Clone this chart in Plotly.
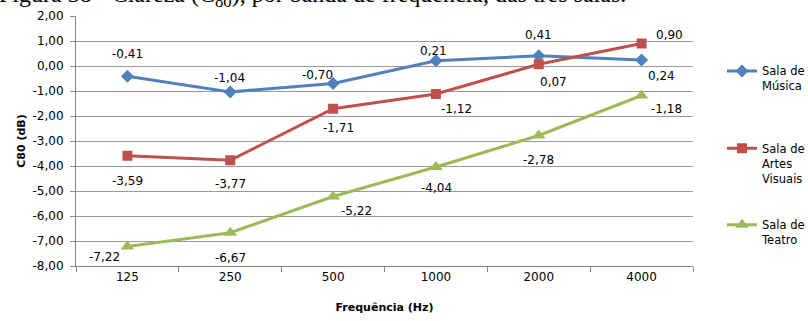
import plotly.graph_objects as go

# Frequency bands (Hz) and C80 clarity values (dB) for each room
bands = ["125", "250", "500", "1000", "2000", "4000"]
musica = [-0.41, -1.04, -0.70, 0.21, 0.41, 0.24]
artes = [-3.59, -3.77, -1.71, -1.12, 0.07, 0.90]
teatro = [-7.22, -6.67, -5.22, -4.04, -2.78, -1.18]
y_ticks = [2, 1, 0, -1, -2, -3, -4, -5, -6, -7, -8]

names = ["Sala de<br>Música", "Sala de<br>Artes<br>Visuais", "Sala de<br>Teatro"]
colors = ["#4F81BD", "#C0504D", "#9BBB59"]
symbols = ["diamond", "square", "triangle-up"]
msizes = [10, 10, 12]

# label offsets in screen pixels (dx right, dy down) for each point
offsets = [
    [(0, -22), (-1, -14), (-16, -9), (-2, -10), (0, -21), (20, 16)],
    [(0, 25), (0, 24), (5, 19), (21, 15), (15, 18), (28, -9)],
    [(-23, 10), (0, 25), (23, 14), (1, 21), (0, 24), (25, 13)],
]

FONT = "DejaVu Sans"


def fmt(v):
    return f"{v:.2f}".replace(".", ",")


fig = go.Figure()
series = [musica, artes, teatro]
legend_ids = ["legend", "legend2", "legend3"]
annotations = []
for i, vals in enumerate(series):
    fig.add_trace(go.Scatter(
        x=bands, y=vals, name=names[i], mode="lines+markers",
        line=dict(color=colors[i], width=3),
        marker=dict(symbol=symbols[i], size=msizes[i], color=colors[i]),
        legend=legend_ids[i], cliponaxis=False,
    ))
    for j, v in enumerate(vals):
        dx, dy = offsets[i][j]
        # category axis: numeric x is the category's index
        annotations.append(dict(
            x=j, y=v, xref="x", yref="y", text=fmt(v), showarrow=False,
            xshift=dx, yshift=-dy, font=dict(family=FONT, size=12, color="#000000"),
        ))

# figure caption above the chart
annotations.append(dict(
    x=0.895, y=1.08, xref="paper", yref="paper", xanchor="right", yanchor="middle",
    text="Figura 38 - Clareza (C<sub>80</sub>), por banda de frequência, das três salas.",
    showarrow=False, font=dict(family="Liberation Serif", size=24, color="#000000"),
))

legend_common = dict(
    x=1.047, xanchor="left", yanchor="top", valign="top",
    bgcolor="rgba(0,0,0,0)", borderwidth=0,
    font=dict(family=FONT, size=11.5, color="#000000"),
)

fig.update_layout(
    width=808, height=321,
    margin=dict(l=76, r=115, t=16, b=55, autoexpand=False),
    paper_bgcolor="white", plot_bgcolor="white",
    showlegend=True,
    legend=dict(y=0.836, **legend_common),
    legend2=dict(y=0.527, **legend_common),
    legend3=dict(y=0.221, **legend_common),
    annotations=annotations,
    xaxis=dict(
        type="category", categoryorder="array", categoryarray=bands,
        range=[-0.5, len(bands) - 0.5], autorange=False,
        showline=True, linecolor="#868686", linewidth=1,
        ticks="outside", tickson="boundaries", ticklen=5, tickcolor="#868686",
        showgrid=False, zeroline=False, tickangle=0,
        tickfont=dict(family=FONT, size=12, color="#000000"),
        title=dict(text="<b>Frequência (Hz)</b>", standoff=19,
                   font=dict(family=FONT, size=11, color="#000000")),
    ),
    yaxis=dict(
        range=[-8, 2], autorange=False, tickvals=y_ticks, ticktext=[fmt(v) for v in y_ticks],
        showline=True, linecolor="#868686", linewidth=1,
        ticks="outside", ticklen=5, tickcolor="#868686", ticklabelstandoff=4,
        showgrid=True, gridcolor="#999999", gridwidth=1, zeroline=False,
        tickfont=dict(family=FONT, size=12, color="#000000"),
        title=dict(text="<b>C80 (dB)</b>", standoff=4,
                   font=dict(family=FONT, size=11, color="#000000")),
    ),
)

fig.write_html("out.html")
